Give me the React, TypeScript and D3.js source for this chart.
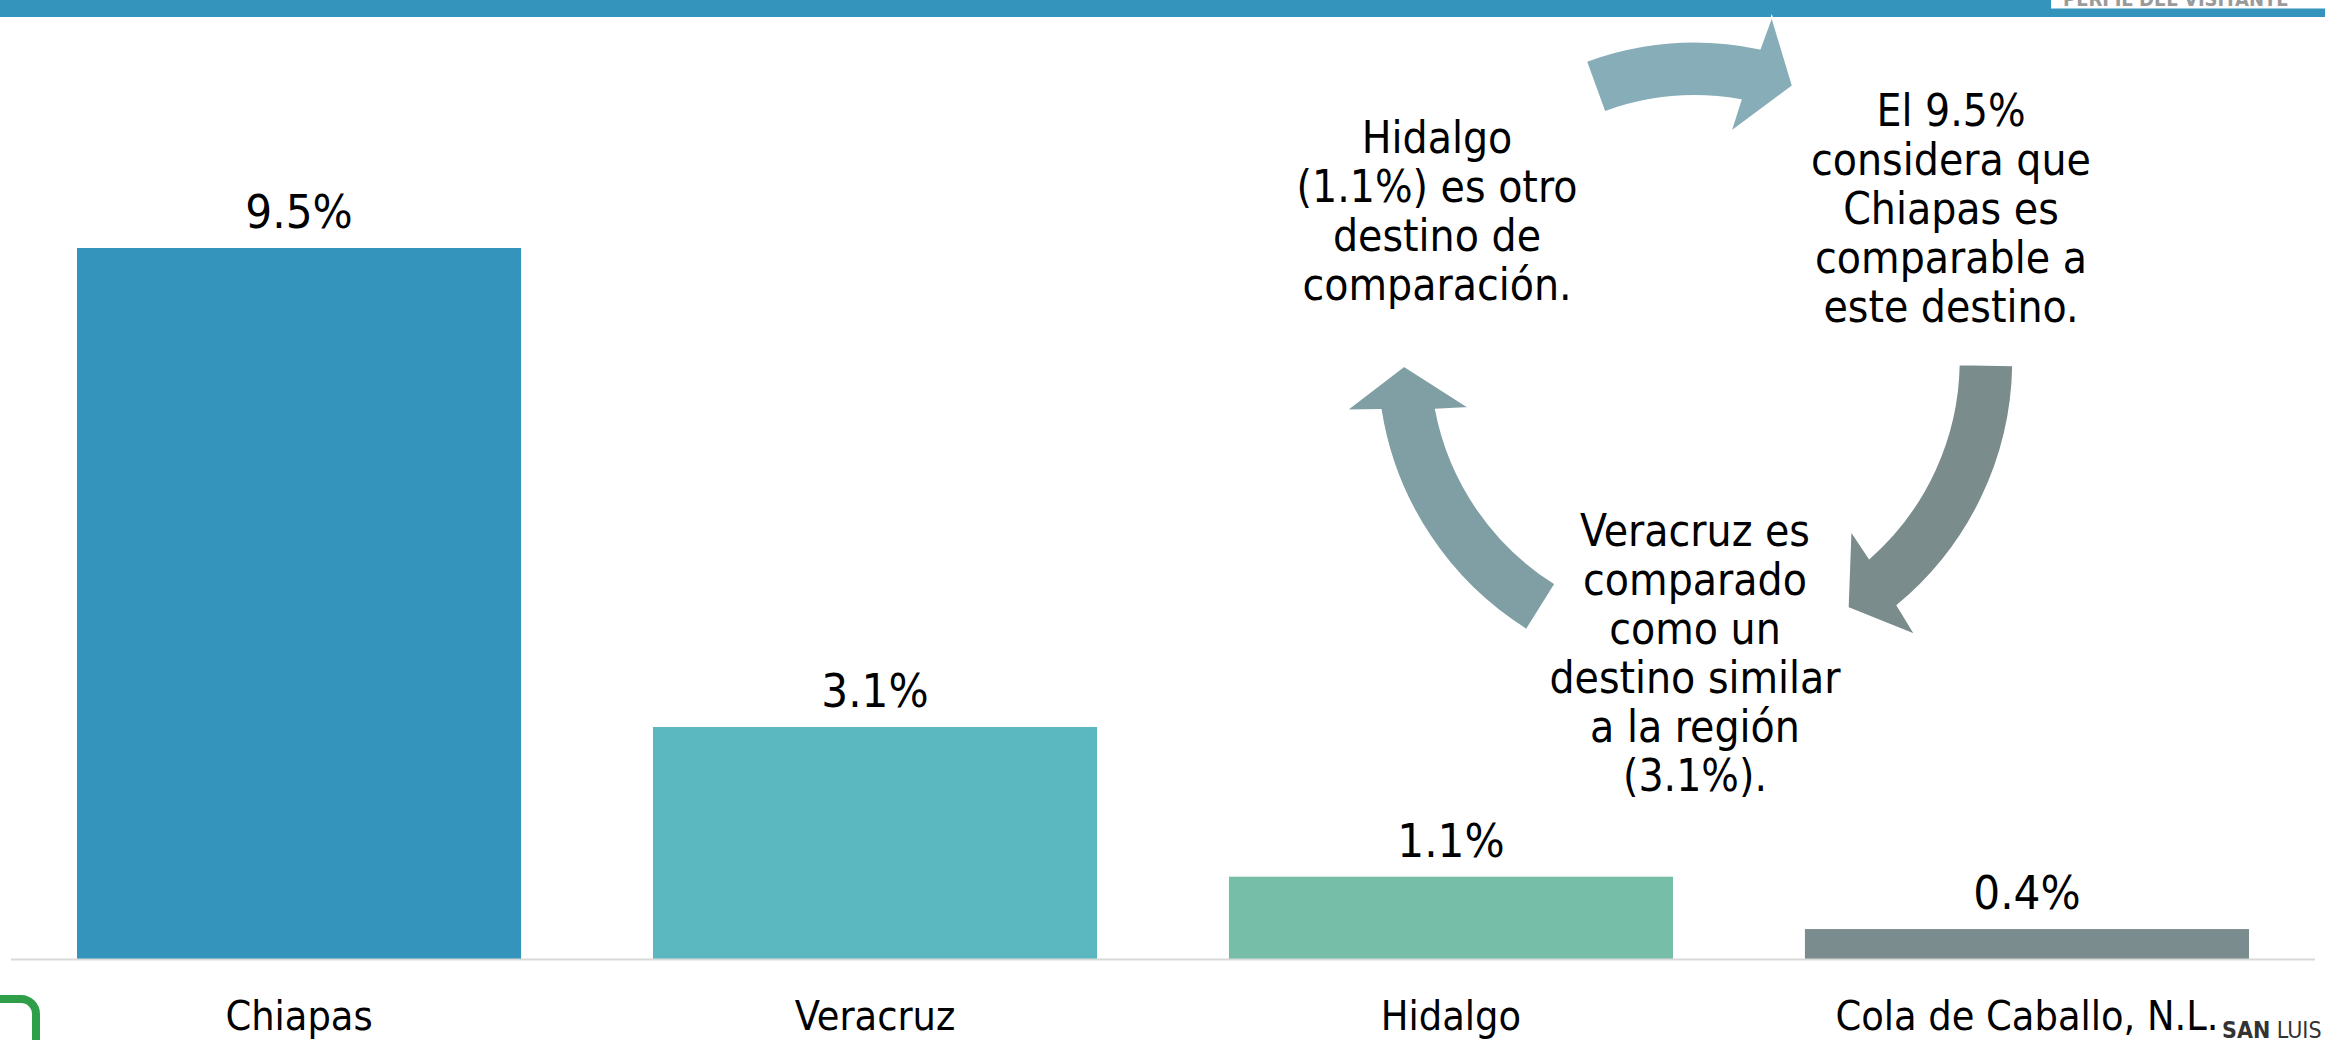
import React from "react";
import * as d3 from "d3";

const W = 2325;
const H = 1040;

const categories = ["Chiapas", "Veracruz", "Hidalgo", "Cola de Caballo, N.L."];
const values = [9.5, 3.1, 1.1, 0.4];
const valueLabels = ["9.5%", "3.1%", "1.1%", "0.4%"];
const barColors = ["#3594BC", "#5BB7C0", "#77BEA8", "#7B8C8E"];

const cycleTexts = [
  ["El 9.5%", "considera que", "Chiapas es", "comparable a", "este destino."],
  ["Veracruz es", "comparado", "como un", "destino similar", "a la región", "(3.1%)."],
  ["Hidalgo", "(1.1%) es otro", "destino de", "comparación."],
];
// angle (deg, clockwise from +x) of each text node on the cycle
const cycleNodeAngles = [-30, 90, 210];
// arrows: start angle and tip angle (deg)
const arrowStarts = [-110, 1, 122];
const arrowTips = [-70.4, 58.3, 178.8];
const arrowColors = ["#87AEB8", "#7B8C8D", "#809FA5"];

const FONT = "'DejaVu Sans Condensed', 'DejaVu Sans', sans-serif";

export default function App() {
  const x = d3
    .scaleBand<string>()
    .domain(categories)
    .range([11, 2315])
    .paddingInner(0.229)
    .paddingOuter(0.1146);
  const y = d3.scaleLinear().domain([0, 9.5]).range([959, 248]);

  const cx = 1695;
  const cy = 360;
  const rIn = 264;
  const rOut = 318;
  const rBarbIn = 231;
  const rBarbOut = 352;
  const rTip = 291;
  const rad = (d: number) => (d * Math.PI) / 180;
  const pt = (r: number, deg: number): [number, number] => [
    cx + r * Math.cos(rad(deg)),
    cy + r * Math.sin(rad(deg)),
  ];

  const arrowPath = (s: number, t: number) => {
    const p = d3.path();
    const start = pt(rOut, s);
    p.moveTo(start[0], start[1]);
    p.arc(cx, cy, rOut, rad(s), rad(t - 7.8), false);
    const bo = pt(rBarbOut, t - 7.0);
    p.lineTo(bo[0], bo[1]);
    const tp = pt(rTip, t);
    p.lineTo(tp[0], tp[1]);
    const bi = pt(rBarbIn, t - 10.7);
    p.lineTo(bi[0], bi[1]);
    p.arc(cx, cy, rIn, rad(t - 9.6), rad(s), true);
    p.closePath();
    return p.toString();
  };

  // text node centres (first baseline positions)
  const nodeFirstBaseline = [126, 546, 153];
  const nodeCenterX = [1951, 1695, 1437];
  const lineH = 49;

  return (
    <svg
      width={W}
      height={H}
      viewBox={`0 0 ${W} ${H}`}
      style={{ position: "fixed", left: 0, top: 0, background: "#fff" }}
    >
      <rect x={0} y={0} width={W} height={H} fill="#fff" />
      {/* header bar */}
      <rect x={0} y={0} width={W} height={17} fill="#3594BC" />
      <defs>
        <clipPath id="hdrclip">
          <rect x={2051} y={0} width={274} height={8} />
        </clipPath>
      </defs>
      <rect x={2051} y={0} width={274} height={8.5} fill="#fff" />
      <text
        x={2063}
        y={6}
        clipPath="url(#hdrclip)"
        fontFamily={FONT}
        fontSize={20}
        fontWeight="bold"
        fill="#9a9a9a"
      >
        PERFIL DEL VISITANTE
      </text>

      {/* bars */}
      {categories.map((c, i) => (
        <rect
          key={c}
          x={x(c)}
          y={y(values[i])}
          width={x.bandwidth()}
          height={y(0) - y(values[i])}
          fill={barColors[i]}
        />
      ))}
      {/* baseline */}
      <line x1={11} x2={2315} y1={959.5} y2={959.5} stroke="#D9D9D9" strokeWidth={2} />

      {/* value labels */}
      {categories.map((c, i) => (
        <text
          key={"v" + c}
          x={(x(c) as number) + x.bandwidth() / 2}
          y={y(values[i]) - 20}
          textAnchor="middle"
          fontFamily={FONT}
          fontStretch="condensed"
          fontSize={47}
          fill="#000"
        >
          {valueLabels[i]}
        </text>
      ))}
      {/* category labels */}
      {categories.map((c) => (
        <text
          key={"c" + c}
          x={(x(c) as number) + x.bandwidth() / 2}
          y={1030}
          textAnchor="middle"
          fontFamily={FONT}
          fontStretch="condensed"
          fontSize={41}
          fill="#000"
        >
          {c}
        </text>
      ))}

      {/* cycle arrows */}
      {arrowStarts.map((s, i) => (
        <path
          key={"a" + i}
          d={arrowPath(s, arrowTips[i])}
          fill={arrowColors[i]}
          stroke="#fff"
          strokeWidth={1.5}
        />
      ))}
      {/* cycle texts */}
      {cycleTexts.map((lines, i) => (
        <text
          key={"t" + i}
          data-angle={cycleNodeAngles[i]}
          fontFamily={FONT}
          fontStretch="condensed"
          fontSize={44}
          fill="#000"
          textAnchor="middle"
        >
          {lines.map((l, j) => (
            <tspan key={j} x={nodeCenterX[i]} y={nodeFirstBaseline[i] + j * lineH}>
              {l}
            </tspan>
          ))}
        </text>
      ))}

      {/* bottom-left green rounded frame */}
      <rect
        x={-40}
        y={999}
        width={76}
        height={80}
        rx={15}
        ry={15}
        fill="none"
        stroke="#2E9E48"
        strokeWidth={8}
      />
      {/* bottom-right logo text */}
      <text x={2222} y={1038} fontFamily={FONT} fontStretch="condensed" fontSize={23} fill="#333">
        <tspan fontWeight="bold">SAN</tspan>
        <tspan> LUIS</tspan>
      </text>
    </svg>
  );
}
